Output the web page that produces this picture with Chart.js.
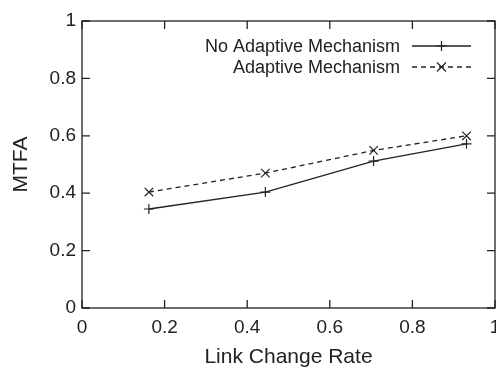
<!DOCTYPE html>
<html>
<head>
<meta charset="utf-8">
<script src="https://cdn.jsdelivr.net/npm/chart.js@4.4.1/dist/chart.umd.min.js"></script>
<style>
  html, body { margin: 0; padding: 0; background: #fff; }
  #wrap { width: 496px; height: 367px; }
</style>
</head>
<body>
<div id="wrap"><canvas id="chart" width="496" height="367"></canvas></div>
<script>
// data
const linkChangeRate = [0.162, 0.444, 0.706, 0.931];
const noAdaptive = [0.345, 0.404, 0.512, 0.572];
const adaptive = [0.404, 0.470, 0.549, 0.600];
const tickValues = [0, 0.2, 0.4, 0.6, 0.8, 1];
const tickLabels = ['0', '0.2', '0.4', '0.6', '0.8', '1'];

const FONT = 'Liberation Sans, Arial, Helvetica, sans-serif';

function toPoints(xs, ys) {
    return xs.map((x, i) => ({ x: x, y: ys[i] }));
}

function labelFor(v) {
    const i = tickValues.findIndex(t => Math.abs(t - v) < 1e-6);
    return i >= 0 ? tickLabels[i] : '';
}

// frame, inward ticks on all sides, and the inside legend
const framePlugin = {
    id: 'frame',
    afterDatasetsDraw(chart) {
        const { ctx, chartArea: a, scales } = chart;
        const len = 8;
        ctx.save();
        ctx.strokeStyle = '#222';
        ctx.lineWidth = 1.3;
        ctx.strokeRect(a.left, a.top, a.right - a.left, a.bottom - a.top);
        ctx.beginPath();
        tickValues.forEach(v => {
            const px = scales.x.getPixelForValue(v);
            ctx.moveTo(px, a.bottom); ctx.lineTo(px, a.bottom - len);
            ctx.moveTo(px, a.top); ctx.lineTo(px, a.top + len);
            const py = scales.y.getPixelForValue(v);
            ctx.moveTo(a.left, py); ctx.lineTo(a.left + len, py);
            ctx.moveTo(a.right, py); ctx.lineTo(a.right - len, py);
        });
        ctx.stroke();

        // legend
        ctx.font = '18px ' + FONT;
        ctx.fillStyle = '#222';
        ctx.textAlign = 'right';
        ctx.textBaseline = 'middle';
        const rows = [46, 67];
        chart.data.datasets.forEach((ds, i) => {
            const y = rows[i];
            ctx.fillText(ds.label, 400, y + 1);
            ctx.beginPath();
            ctx.setLineDash(ds.borderDash || []);
            ctx.strokeStyle = ds.borderColor;
            ctx.lineWidth = ds.borderWidth;
            ctx.moveTo(412, y); ctx.lineTo(471, y);
            ctx.stroke();
            ctx.setLineDash([]);
            const cx = 441.5, r = ds.pointRadius;
            ctx.beginPath();
            if (ds.pointStyle === 'cross') {
                ctx.moveTo(cx - r, y); ctx.lineTo(cx + r, y);
                ctx.moveTo(cx, y - r); ctx.lineTo(cx, y + r);
            } else {
                const d = r * 0.75;
                ctx.moveTo(cx - d, y - d); ctx.lineTo(cx + d, y + d);
                ctx.moveTo(cx - d, y + d); ctx.lineTo(cx + d, y - d);
            }
            ctx.lineWidth = 1.2;
            ctx.stroke();
        });
        ctx.restore();
    }
};

new Chart(document.getElementById('chart'), {
    type: 'line',
    data: {
        datasets: [
            {
                label: 'No Adaptive Mechanism',
                data: toPoints(linkChangeRate, noAdaptive),
                borderColor: '#222',
                borderWidth: 1.3,
                pointStyle: 'cross',
                pointRadius: 5,
                pointBorderWidth: 1.2,
                pointBorderColor: '#222',
                fill: false,
                tension: 0
            },
            {
                label: 'Adaptive Mechanism',
                data: toPoints(linkChangeRate, adaptive),
                borderColor: '#222',
                borderWidth: 1.3,
                borderDash: [5, 4],
                pointStyle: 'crossRot',
                pointRadius: 6,
                pointBorderWidth: 1.2,
                pointBorderColor: '#222',
                fill: false,
                tension: 0
            }
        ]
    },
    options: {
        responsive: false,
        animation: false,
        layout: { autoPadding: false, padding: { top: 21, right: 1, left: 0, bottom: 0 } },
        plugins: {
            legend: { display: false },
            tooltip: { enabled: false }
        },
        scales: {
            x: {
                type: 'linear',
                min: 0,
                max: 1,
                grid: { display: false, drawTicks: false },
                border: { display: false },
                afterBuildTicks: s => { s.ticks = tickValues.map(v => ({ value: v })); },
                afterFit: s => { s.height = 59; s.paddingRight = 0; s.paddingLeft = 0; },
                ticks: {
                    color: '#222',
                    padding: 8,
                    maxRotation: 0,
                    autoSkip: false,
                    font: { family: FONT, size: 19 },
                    callback: v => labelFor(v)
                },
                title: {
                    display: true,
                    text: 'Link Change Rate',
                    color: '#222',
                    padding: { top: 0, bottom: -3 },
                    font: { family: FONT, size: 21 }
                }
            },
            y: {
                type: 'linear',
                min: 0,
                max: 1,
                grid: { display: false, drawTicks: false },
                border: { display: false },
                afterBuildTicks: s => { s.ticks = tickValues.map(v => ({ value: v })); },
                afterFit: s => { s.width = 82; s.paddingTop = 0; s.paddingBottom = 0; },
                ticks: {
                    color: '#222',
                    padding: 6,
                    autoSkip: false,
                    font: { family: FONT, size: 19 },
                    callback: v => labelFor(v)
                },
                title: {
                    display: true,
                    text: 'MTFA',
                    color: '#222',
                    padding: { top: 9, bottom: 0 },
                    font: { family: FONT, size: 21 }
                }
            }
        }
    },
    plugins: [framePlugin]
});
</script>
</body>
</html>
